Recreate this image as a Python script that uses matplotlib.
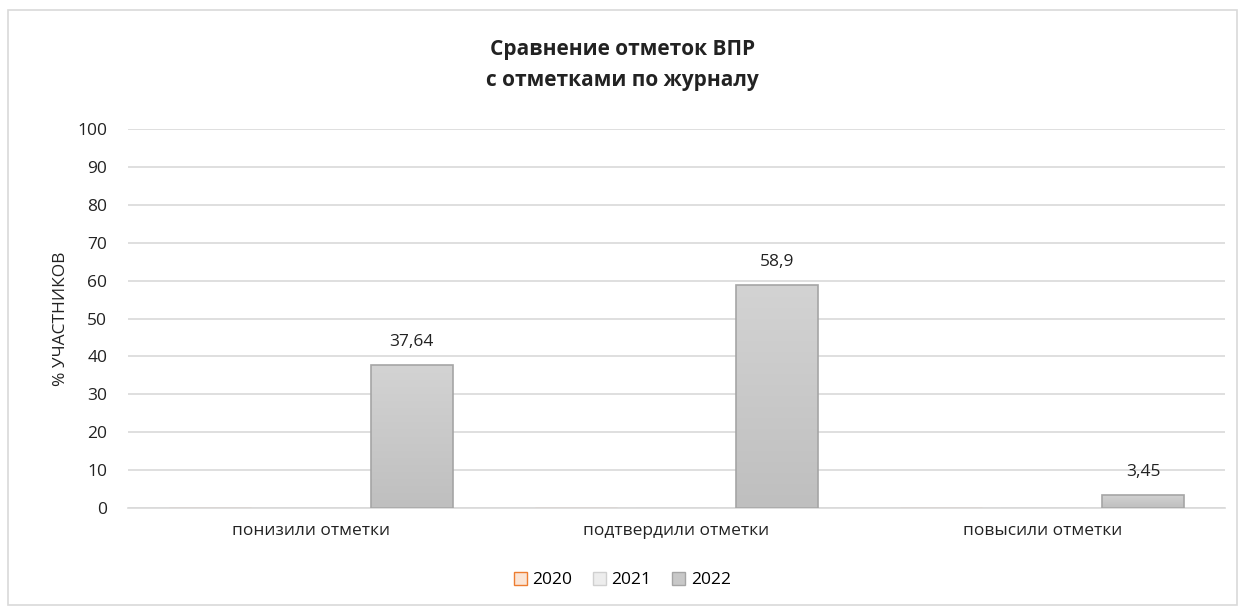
import matplotlib
matplotlib.use("Agg")
import matplotlib.pyplot as plt
import numpy as np
from matplotlib.patches import Rectangle, Patch
from matplotlib.colors import LinearSegmentedColormap

categories = ["понизили отметки", "подтвердили отметки", "повысили отметки"]
years = ["2020", "2021", "2022"]
v2020 = [0, 0, 0]
v2021 = [0, 0, 0]
v2022 = [37.64, 58.9, 3.45]
labels2022 = ["37,64", "58,9", "3,45"]

plt.rcParams['font.family'] = ['Open Sans', 'DejaVu Sans']
FS = 12.5

fig = plt.figure(figsize=(12.45, 6.15), dpi=100)
fig.patches.append(Rectangle((8/1245, 1-605/615), 1229/1245, 595/615, transform=fig.transFigure,
                             fill=False, edgecolor='#d9d9d9', linewidth=1.2))
ax = fig.add_axes([128/1245, 1-508/615, 1097/1245, 379/615])

x = np.arange(len(categories))
w = 0.224
off = 0.276
ax.bar(x - off, v2020, w, color='#fbe5d6', edgecolor='#ed7d31', linewidth=1)
ax.bar(x, v2021, w, color='#ededed', edgecolor='#d0d0d0', linewidth=1)
bars = ax.bar(x + off, v2022, w, color='#c8c8c8', edgecolor='#a5a5a5', linewidth=1.2, zorder=3)

grad = np.linspace(0, 1, 100).reshape(-1, 1)
cmap = LinearSegmentedColormap.from_list('g', ['#bfbfbf', '#d3d3d3'])
for b, lab in zip(bars, labels2022):
    x0, y0, bw, bh = b.get_x(), b.get_y(), b.get_width(), b.get_height()
    im = ax.imshow(grad, extent=[x0, x0 + bw, y0, y0 + bh], origin='lower', cmap=cmap,
                   aspect='auto', zorder=2.5)
    im.set_clip_path(b)
    b.set_facecolor('none')
    ax.text(x0 + bw/2, y0 + bh + 4, lab, ha='center', va='bottom', fontsize=FS, color='#222222')

ax.set_xlim(-0.5, 2.5)
ax.set_ylim(0, 100)
ax.set_yticks(range(0, 101, 10))
ax.set_xticks(x)
ax.set_xticklabels(categories, fontsize=FS, color='#222222')
ax.tick_params(axis='y', labelsize=FS, colors='#222222', length=0, pad=15)
ax.tick_params(axis='x', length=0, pad=11)
ax.grid(axis='y', color='#d9d9d9', linewidth=1.2, zorder=0)
ax.set_axisbelow(True)
for s in ['top', 'right', 'left']:
    ax.spines[s].set_visible(False)
ax.spines['bottom'].set_color('#d9d9d9')
ax.spines['bottom'].set_linewidth(1.2)
ax.set_ylabel("% УЧАСТНИКОВ", fontsize=FS, color='#222222')
ax.yaxis.set_label_coords(-0.054, 0.5)

fig.text(0.5, 1-65/615, "Сравнение отметок ВПР\nс отметками по журналу", ha='center', va='center',
         fontsize=15, fontweight='bold', color='#222222', linespacing=1.65)

handles = [Patch(facecolor='#fbe5d6', edgecolor='#ed7d31'),
           Patch(facecolor='#ededed', edgecolor='#d0d0d0'),
           Patch(facecolor='#c8c8c8', edgecolor='#a5a5a5')]
fig.legend(handles, years, loc='center', bbox_to_anchor=(0.5, 1-580/615), ncol=3, frameon=False,
           fontsize=FS, handlelength=0.75, handleheight=0.75, handletextpad=0.3, columnspacing=1.2)

fig.savefig("out.png", dpi=100)
